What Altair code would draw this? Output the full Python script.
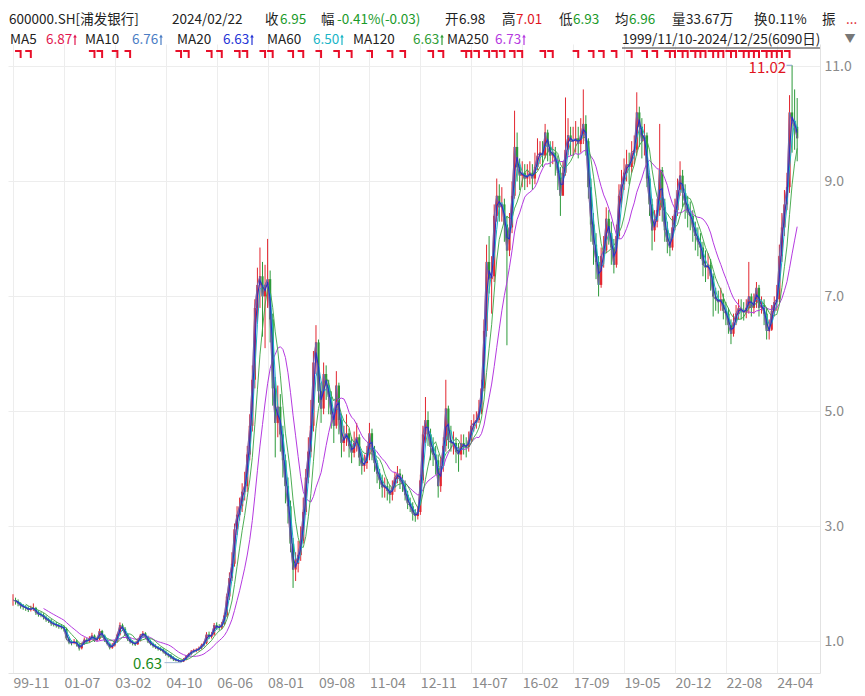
import altair as alt
import pandas as pd

# ---------------- data (one period ~ one month) -------------
close = [
    1.72, 1.70, 1.66, 1.62, 1.60, 1.58, 1.55, 1.57, 1.58, 1.50,
    1.47, 1.46, 1.42, 1.38, 1.36, 1.31, 1.30, 1.28, 1.26, 1.25,
    1.22, 1.05, 0.98, 0.97, 1.00, 0.95, 0.88, 0.95, 1.03, 1.00,
    1.05, 1.10, 1.02, 1.04, 1.18, 1.10, 1.02, 0.96, 0.89, 0.93,
    1.00, 1.12, 1.28, 1.22, 1.12, 1.04, 0.99, 0.97, 0.95, 1.02,
    1.10, 1.14, 1.08, 1.00, 0.96, 0.92, 0.90, 0.87, 0.86, 0.82,
    0.78, 0.76, 0.72, 0.69, 0.67, 0.66, 0.65, 0.68, 0.74, 0.78,
    0.82, 0.84, 0.85, 0.88, 0.93, 0.97, 1.12, 1.08, 1.12, 1.28,
    1.25, 1.24, 1.30, 1.45, 1.78, 2.10, 2.35, 2.95, 3.20, 3.35,
    3.60, 3.70, 4.25, 4.75, 5.55, 6.80, 7.20, 7.35, 7.00, 7.20,
    7.30, 6.60, 5.40, 4.80, 5.08, 4.60, 4.15, 3.70, 3.35, 2.70,
    2.25, 2.35, 2.50, 2.75, 3.25, 3.85, 4.30, 4.75, 5.85, 6.20,
    5.35, 5.05, 5.65, 5.45, 5.25, 4.95, 4.75, 5.45, 4.85, 4.45,
    4.55, 4.62, 4.40, 4.28, 4.45, 4.55, 4.20, 4.05, 4.10, 4.25,
    4.62, 4.30, 4.10, 3.92, 3.80, 3.68, 3.70, 3.62, 3.55, 3.68,
    3.85, 3.92, 3.80, 3.73, 3.55, 3.40, 3.35, 3.22, 3.18, 3.25,
    3.80, 4.60, 4.85, 4.60, 4.38, 4.25, 4.15, 3.70, 4.05, 4.40,
    5.05, 4.50, 4.45, 4.45, 4.30, 4.25, 4.45, 4.40, 4.38, 4.50,
    4.75, 4.80, 4.85, 5.00, 5.40, 6.40, 7.60, 7.30, 7.35, 8.40,
    8.75, 8.55, 8.60, 8.25, 7.80, 8.20, 8.75, 9.60, 9.25, 9.10,
    9.15, 9.05, 9.10, 9.15, 9.05, 9.25, 9.45, 9.50, 9.45, 9.85,
    9.60, 9.45, 9.50, 9.35, 9.15, 8.75, 9.15, 9.55, 9.80, 9.70,
    9.70, 9.75, 9.65, 9.80, 10.00, 9.70, 8.90, 8.25, 7.90, 7.60,
    7.20, 7.70, 7.80, 8.35, 8.10, 7.85, 7.55, 8.05, 8.75, 8.95,
    9.15, 9.30, 9.25, 9.50, 9.55, 10.20, 9.95, 9.70, 9.80, 9.05,
    8.60, 8.15, 8.30, 8.50, 9.20, 8.55, 8.15, 7.95, 7.85, 8.20,
    8.50, 8.85, 9.10, 8.80, 8.60, 8.45, 8.40, 8.20, 8.05, 7.95,
    7.85, 7.55, 7.50, 7.55, 7.35, 7.00, 6.95, 6.90, 6.95, 6.75,
    6.70, 6.50, 6.35, 6.55, 6.70, 6.80, 6.75, 6.72, 6.80, 7.00,
    6.80, 6.90, 7.15, 6.80, 6.85, 6.70, 6.40, 6.42, 6.75, 6.90,
    6.95, 7.70, 8.20, 8.60, 8.90, 10.20, 10.05, 9.95, 9.75,
]
high = [
    1.82, 1.76, 1.73, 1.68, 1.65, 1.63, 1.61, 1.62, 1.66, 1.60,
    1.54, 1.51, 1.49, 1.45, 1.41, 1.39, 1.35, 1.34, 1.31, 1.30,
    1.28, 1.24, 1.08, 1.02, 1.04, 1.03, 0.97, 0.98, 1.07, 1.06,
    1.09, 1.15, 1.12, 1.08, 1.22, 1.20, 1.12, 1.04, 0.98, 0.97,
    1.03, 1.15, 1.33, 1.31, 1.25, 1.14, 1.07, 1.02, 1.00, 1.05,
    1.13, 1.18, 1.16, 1.10, 1.03, 0.98, 0.95, 0.92, 0.90, 0.88,
    0.84, 0.80, 0.78, 0.74, 0.71, 0.69, 0.68, 0.71, 0.76, 0.80,
    0.85, 0.87, 0.88, 0.91, 0.96, 1.00, 1.16, 1.17, 1.16, 1.32,
    1.33, 1.30, 1.34, 1.50, 1.83, 2.20, 2.55, 3.05, 3.35, 3.50,
    3.75, 3.95, 4.40, 4.95, 5.80, 6.95, 7.50, 7.85, 7.60, 7.55,
    8.00, 7.45, 6.70, 5.60, 5.45, 5.30, 4.75, 4.25, 3.85, 3.45,
    2.80, 2.55, 2.75, 3.00, 3.50, 4.00, 4.55, 5.20, 6.05, 6.50,
    6.25, 5.50, 5.85, 5.80, 5.55, 5.35, 5.05, 5.70, 5.50, 4.95,
    4.75, 4.95, 4.70, 4.55, 4.65, 4.80, 4.60, 4.30, 4.25, 4.40,
    4.80, 4.70, 4.40, 4.15, 4.00, 3.90, 3.85, 3.82, 3.72, 3.80,
    3.95, 4.05, 4.00, 3.90, 3.80, 3.62, 3.50, 3.42, 3.30, 3.35,
    3.90, 4.75, 5.25, 5.00, 4.70, 4.55, 4.40, 4.25, 4.20, 4.55,
    5.55, 5.10, 4.75, 4.65, 4.55, 4.45, 4.60, 4.60, 4.55, 4.65,
    4.85, 4.95, 5.00, 5.20, 5.55, 6.60, 7.90, 8.05, 7.70, 8.60,
    9.05, 8.95, 8.90, 8.70, 8.40, 8.45, 9.00, 10.23, 9.85, 9.40,
    9.35, 9.30, 9.30, 9.35, 9.30, 9.50, 9.75, 9.70, 9.70, 10.00,
    9.90, 9.70, 9.70, 9.60, 9.45, 9.25, 9.35, 10.46, 10.10, 9.95,
    9.95, 10.05, 9.95, 10.10, 10.60, 10.15, 9.75, 9.05, 8.45, 8.10,
    7.70, 7.85, 8.05, 8.55, 8.50, 8.30, 8.00, 8.25, 8.95, 9.20,
    9.40, 9.55, 9.50, 9.70, 9.80, 10.55, 10.30, 10.10, 10.00, 9.85,
    9.10, 8.70, 8.50, 8.70, 10.00, 9.25, 8.70, 8.30, 8.10, 8.40,
    8.70, 9.05, 9.35, 9.20, 8.95, 8.75, 8.65, 8.50, 8.30, 8.20,
    8.10, 7.95, 7.80, 7.75, 7.65, 7.40, 7.15, 7.10, 7.15, 7.05,
    6.90, 6.80, 6.60, 6.70, 6.85, 6.95, 6.95, 6.90, 6.95, 7.60,
    7.05, 7.05, 7.25, 7.20, 7.00, 6.95, 6.80, 6.60, 6.85, 7.00,
    7.20, 7.90, 8.45, 8.85, 9.15, 10.50, 11.02, 10.60, 10.45,
]
low = [
    1.62, 1.64, 1.61, 1.57, 1.55, 1.53, 1.51, 1.52, 1.53, 1.46,
    1.43, 1.42, 1.38, 1.34, 1.32, 1.27, 1.26, 1.24, 1.22, 1.21,
    1.17, 1.02, 0.95, 0.93, 0.95, 0.91, 0.84, 0.86, 0.94, 0.96,
    0.98, 1.02, 0.99, 1.00, 1.02, 1.06, 0.99, 0.93, 0.86, 0.87,
    0.91, 0.98, 1.10, 1.18, 1.09, 1.01, 0.96, 0.93, 0.92, 0.94,
    1.00, 1.06, 1.04, 0.97, 0.93, 0.89, 0.87, 0.84, 0.83, 0.79,
    0.75, 0.72, 0.69, 0.66, 0.65, 0.64, 0.63, 0.64, 0.67, 0.72,
    0.76, 0.80, 0.81, 0.83, 0.86, 0.91, 0.95, 1.04, 1.05, 1.10,
    1.20, 1.19, 1.21, 1.28, 1.42, 1.72, 2.05, 2.30, 2.85, 3.10,
    3.25, 3.45, 3.60, 4.15, 4.65, 5.40, 6.55, 6.80, 6.30, 6.10,
    6.80, 6.20, 5.10, 4.20, 4.55, 4.30, 3.85, 3.40, 3.05, 2.55,
    1.93, 2.05, 2.20, 2.40, 2.70, 3.20, 3.75, 4.20, 4.65, 5.65,
    5.15, 4.80, 4.95, 5.20, 4.95, 4.70, 4.45, 4.70, 4.60, 4.20,
    4.30, 4.40, 4.20, 4.10, 4.20, 4.30, 4.05, 3.90, 3.95, 4.00,
    4.15, 4.15, 3.95, 3.75, 3.65, 3.50, 3.50, 3.45, 3.40, 3.45,
    3.60, 3.75, 3.65, 3.60, 3.45, 3.30, 3.25, 3.10, 3.08, 3.12,
    3.20, 3.75, 4.45, 4.40, 4.15, 4.05, 3.90, 3.50, 3.60, 3.95,
    4.30, 4.35, 4.30, 4.25, 4.10, 3.95, 4.15, 4.25, 4.20, 4.30,
    4.45, 4.65, 4.70, 4.80, 4.95, 5.35, 6.30, 7.05, 6.70, 7.25,
    8.30, 8.30, 8.30, 7.95, 6.15, 7.70, 8.10, 8.70, 9.00, 8.85,
    8.90, 8.85, 8.90, 8.95, 8.85, 8.95, 9.20, 9.30, 9.25, 9.40,
    9.35, 9.25, 9.30, 9.10, 8.85, 8.40, 8.80, 9.10, 9.45, 9.45,
    9.45, 9.50, 9.40, 9.50, 9.65, 9.45, 8.70, 7.95, 7.55, 7.30,
    7.00, 7.15, 7.50, 7.75, 7.90, 7.55, 7.40, 7.50, 8.00, 8.55,
    8.85, 9.00, 8.95, 9.15, 9.30, 9.45, 9.60, 9.40, 9.45, 8.90,
    8.40, 7.80, 7.95, 8.20, 8.40, 8.30, 7.95, 7.75, 7.70, 7.80,
    8.15, 8.40, 8.75, 8.55, 8.35, 8.20, 8.15, 7.95, 7.80, 7.70,
    7.65, 7.35, 7.25, 7.30, 7.10, 6.65, 6.75, 6.70, 6.75, 6.60,
    6.50, 6.35, 6.17, 6.30, 6.50, 6.60, 6.60, 6.58, 6.62, 6.70,
    6.65, 6.70, 6.80, 6.65, 6.70, 6.50, 6.25, 6.25, 6.40, 6.65,
    6.75, 6.90, 7.60, 8.05, 8.50, 8.80, 9.50, 9.55, 9.35,
]

x_ticks = [0, 20, 40, 60, 80, 100, 120, 140, 160, 180, 200, 220, 240, 260, 280, 300]
x_labels = ["99-11", "01-07", "03-02", "04-10", "06-06", "08-01", "09-08", "11-04",
            "12-11", "14-07", "16-02", "17-09", "19-05", "20-12", "22-08", "24-04"]
y_ticks = [1.0, 3.0, 5.0, 7.0, 9.0, 11.0]

event_idx = [3, 7, 32, 35, 41, 46, 66, 69, 78, 82, 89, 92, 99, 102, 110, 114, 121, 128,
             133, 141, 149, 154, 165, 169, 178, 180, 183, 187, 190, 193, 197, 200, 209,
             212, 222, 228, 232, 237, 243, 249, 253, 258, 260, 263, 265, 268, 270, 272,
             275, 277, 279, 282, 284, 287, 289, 291, 293, 296, 298, 300, 302, 305]

ann_idx = [66, 306]
ann_val = [0.63, 11.02]
ann_text = ["0.63", "11.02"]

# header line 1: (text, colour, x)
header1 = [("600000.SH[浦发银行]", "#222222", 1), ("2024/02/22", "#222222", 164),
           ("收", "#222222", 257), ("6.95", "#1a9a2a", 272),
           ("幅", "#222222", 313), ("-0.41%(-0.03)", "#1a9a2a", 329),
           ("开", "#222222", 437), ("6.98", "#222222", 451),
           ("高", "#222222", 494), ("7.01", "#e0141e", 508),
           ("低", "#222222", 551), ("6.93", "#1a9a2a", 565),
           ("均", "#222222", 607), ("6.96", "#1a9a2a", 621),
           ("量", "#222222", 664), ("33.67万", "#222222", 678),
           ("换", "#222222", 746), ("0.11%", "#222222", 760),
           ("振", "#222222", 814), ("...", "#e0141e", 838)]
# header line 2: MA names, values
ma_names = ["MA5", "MA10", "MA20", "MA60", "MA120", "MA250"]
ma_vals = ["6.87", "6.76", "6.63", "6.50", "6.63", "6.73"]
ma_cols = ["#e2174f", "#4a7dc4", "#2535d6", "#19b5c6", "#2f9e38", "#b53ae0"]
ma_name_x = [2, 77, 169, 259, 345, 439]
ma_val_x = [38, 124, 215, 305, 405, 487]
range_text = "1999/11/10-2024/12/25(6090日)"

# ---------------- table ----------------
n = len(close)
openp = [close[0]] + close[:-1]
df = pd.DataFrame({"i": list(range(n)), "open": openp, "close": close,
                   "high": high, "low": low})

RED = "#e3262f"
GREEN = "#2c9a3a"
FONT = "Noto Sans CJK SC"
HSIZE = 13.5

xscale = alt.Scale(domain=[0, 315], nice=False, zero=False)
yscale = alt.Scale(domain=[0.45, 11.39], nice=False, zero=False)

label_expr = " : ".join(f"datum.value == {t} ? '{l}'" for t, l in zip(x_ticks, x_labels)) + " : ''"

xaxis = alt.Axis(values=x_ticks, labelExpr=label_expr, title=None, grid=True,
                 gridColor="#ededed", ticks=False, domainColor="#e2e2e2",
                 labelAlign="left", labelColor="#8a8a8a", labelFontSize=14, labelFont=FONT,
                 labelPadding=3, labelOverlap=False, labelBound=False, labelFlush=False)
yaxis = alt.Axis(orient="right", values=y_ticks, format=".1f", title=None, grid=True,
                 gridColor="#ededed", ticks=False, domainColor="#e2e2e2",
                 labelColor="#8a8a8a", labelFontSize=14, labelFont=FONT, labelPadding=4,
                 labelOverlap=False)

base = alt.Chart(df)
updown = alt.condition("datum.close >= datum.open", alt.value(RED), alt.value(GREEN))

wick = base.mark_rule(strokeWidth=1).encode(
    x=alt.X("i:Q", scale=xscale, axis=xaxis),
    y=alt.Y("low:Q", scale=yscale, axis=yaxis),
    y2="high:Q",
    color=updown,
)
body = base.mark_bar(size=2.2).encode(x="i:Q", y="open:Q", y2="close:Q", color=updown)


def ma_line(k, color, width):
    return (base.transform_window(ma="mean(close)", frame=[-(k - 1), 0],
                                  sort=[alt.SortField("i")])
            .transform_filter(f"datum.i >= {k - 1}")
            .mark_line(color=color, strokeWidth=width)
            .encode(x="i:Q", y="ma:Q"))


ma5 = base.mark_line(color="#e2174f", strokeWidth=0.8).encode(x="i:Q", y="close:Q")
ma10 = base.mark_line(color="#4a7dc4", strokeWidth=0.9, opacity=0.9).encode(x="i:Q", y="close:Q")
ma20 = ma_line(2, "#2a33c4", 1.1)
ma60 = ma_line(3, "#19b5c6", 1)
ma120 = ma_line(6, "#3aa542", 0.9)
ma250 = ma_line(13, "#b53ae0", 1)

ev_df = pd.DataFrame({"i": event_idx})
ev_v = alt.Chart(ev_df).mark_rule(color="#e8102a", strokeWidth=2).encode(
    x="i:Q", y=alt.value(6), y2=alt.value(14))
ev_h = alt.Chart(ev_df).transform_calculate(i0="datum.i - 2.2").mark_rule(
    color="#e8102a", strokeWidth=2).encode(x="i0:Q", x2="i:Q", y=alt.value(7))

ann_df = pd.DataFrame({"i": ann_idx, "v": ann_val, "t": ann_text})
ann_low = alt.Chart(ann_df.iloc[[0]]).mark_text(
    align="right", baseline="middle", dx=-19, dy=1, fontSize=15, font=FONT,
    color="#1a8a1a").encode(x="i:Q", y="v:Q", text="t:N")
ann_high = alt.Chart(ann_df.iloc[[1]]).mark_text(
    align="right", baseline="middle", dx=-6, dy=3, fontSize=15, font=FONT,
    color="#e0141e").encode(x="i:Q", y="v:Q", text="t:N")
ann_low_line = alt.Chart(ann_df.iloc[[0]]).transform_calculate(i0="datum.i - 6.5").mark_rule(
    color="#9fb6d6", strokeWidth=1).encode(x="i0:Q", x2="i:Q", y="v:Q")
ann_high_line = alt.Chart(ann_df.iloc[[1]]).transform_calculate(i0="datum.i - 2.2").mark_rule(
    color="#7f9cc8", strokeWidth=1).encode(x="i0:Q", x2="i:Q", y="v:Q")

one = pd.DataFrame({"k": [0]})
Y1, Y2 = -24, -4


def label(t, c, px, py, size, align="left", font=FONT):
    return alt.Chart(one).mark_text(
        text=t, color=c, align=align, baseline="middle", fontSize=size, font=font
    ).encode(x=alt.value(px), y=alt.value(py))


head_layers = [label(t, c, px, Y1, HSIZE) for (t, c, px) in header1]
for nm, v, c, nx, vx in zip(ma_names, ma_vals, ma_cols, ma_name_x, ma_val_x):
    head_layers.append(label(nm, "#222222", nx, Y2, HSIZE))
    head_layers.append(label(v, c, vx, Y2, HSIZE))
    # small up-arrow drawn as a stem and a head
    head_layers.append(alt.Chart(one).mark_rule(color=c, strokeWidth=1.2).encode(
        x=alt.value(vx + 29), y=alt.value(Y2 - 4), y2=alt.value(Y2 + 5)))
    head_layers.append(alt.Chart(one).mark_point(
        shape="triangle-up", filled=True, color=c, size=13, opacity=1).encode(
        x=alt.value(vx + 29), y=alt.value(Y2 - 4)))
head_layers.append(label(range_text, "#222222", 614, Y2, HSIZE))
head_layers.append(label("▼", "#777777", 842, Y2, 11, align="center"))
underline = alt.Chart(one).mark_rule(color="#333333", strokeWidth=1).encode(
    x=alt.value(614), x2=alt.value(812), y=alt.value(4))

chart = alt.layer(
    wick, body, ma250, ma120, ma60, ma5, ma10, ma20, ev_v, ev_h,
    ann_low_line, ann_high_line, ann_low, ann_high, underline, *head_layers
).properties(
    width=812, height=629,
    padding={"left": 0, "top": 36, "right": 37, "bottom": 20},
    autosize=alt.AutoSizeParams(type="none"),
).configure_view(stroke=None)

chart.save("out.html", embed_options={"renderer": "svg", "actions": False})
